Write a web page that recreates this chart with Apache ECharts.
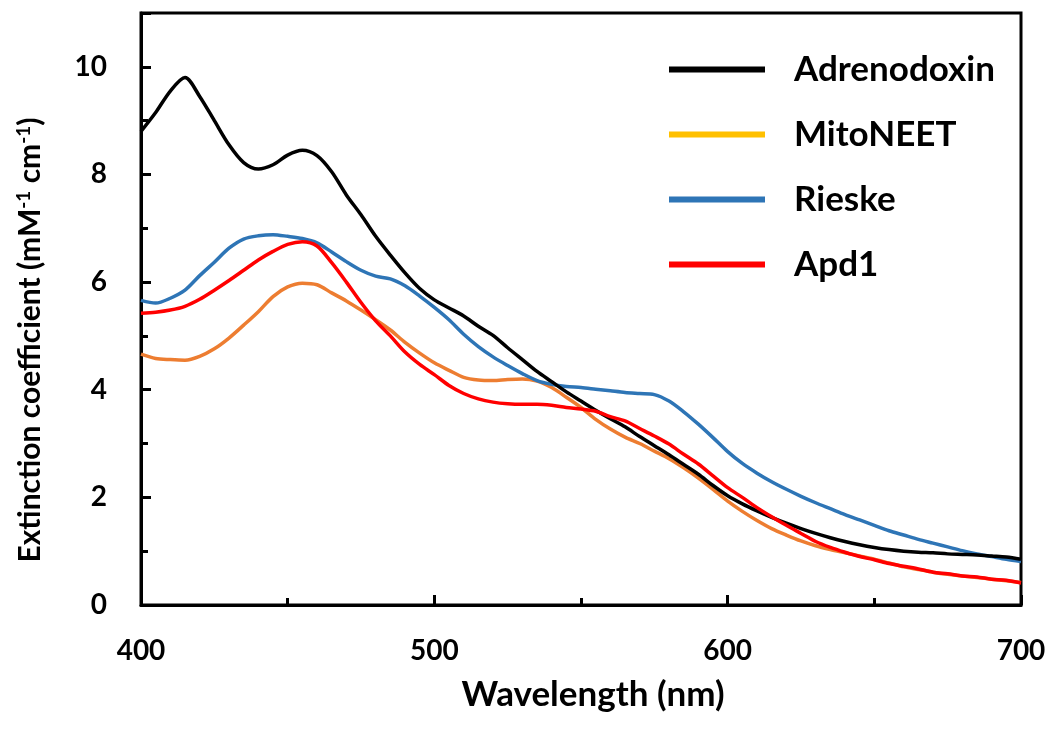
<!DOCTYPE html>
<html>
<head>
<meta charset="utf-8">
<script src="https://cdn.jsdelivr.net/npm/echarts@6/dist/echarts.min.js"></script>
<style>
html,body{margin:0;padding:0;background:#fff;}
#chart{width:1050px;height:732px;}
</style>
</head>
<body>
<div id="chart"></div>
<script>
const wavelengths = [400,405,410,415,420,425,430,435,440,445,450,455,460,465,470,475,480,485,490,495,
  500,505,510,515,520,525,530,535,540,545,550,555,560,565,570,575,580,585,590,595,
  600,605,610,615,620,625,630,635,640,645,650,655,660,665,670,675,680,685,690,695,700];

const adrenodoxin = [8.80,9.15,9.55,9.80,9.45,9.00,8.55,8.22,8.10,8.18,8.36,8.45,8.35,8.05,7.62,7.25,6.85,6.50,6.17,5.88,
  5.67,5.52,5.37,5.18,5.01,4.78,4.56,4.34,4.15,3.96,3.79,3.62,3.46,3.31,3.13,2.96,2.79,2.61,2.43,2.22,
  2.03,1.88,1.75,1.63,1.52,1.42,1.33,1.25,1.18,1.12,1.07,1.03,1.00,0.98,0.97,0.95,0.94,0.93,0.91,0.89,0.85];

const mitoNEET = [4.66,4.58,4.56,4.55,4.62,4.76,4.96,5.20,5.45,5.73,5.91,5.98,5.95,5.80,5.65,5.48,5.30,5.11,4.88,4.68,
  4.50,4.36,4.23,4.18,4.17,4.19,4.20,4.16,4.04,3.86,3.67,3.45,3.27,3.12,3.00,2.86,2.72,2.55,2.36,2.15,
  1.93,1.74,1.57,1.42,1.30,1.19,1.10,1.03,0.97,0.91,0.85,0.78,0.71,0.66,0.61,0.57,0.54,0.51,0.48,0.45,0.42];

const rieske = [5.66,5.61,5.70,5.85,6.12,6.37,6.63,6.80,6.86,6.88,6.85,6.81,6.73,6.56,6.38,6.22,6.11,6.06,5.93,5.74,
  5.53,5.30,5.03,4.80,4.61,4.45,4.30,4.17,4.10,4.06,4.04,4.01,3.98,3.95,3.93,3.91,3.79,3.59,3.36,3.11,
  2.85,2.63,2.45,2.29,2.15,2.02,1.90,1.79,1.68,1.58,1.48,1.38,1.30,1.22,1.15,1.08,1.01,0.95,0.90,0.85,0.81];

const apd1 = [5.42,5.44,5.48,5.55,5.68,5.85,6.03,6.22,6.41,6.57,6.70,6.75,6.67,6.36,6.00,5.62,5.28,5.00,4.70,4.47,
  4.28,4.08,3.93,3.83,3.77,3.74,3.73,3.73,3.71,3.67,3.64,3.60,3.50,3.42,3.28,3.14,2.99,2.80,2.62,2.40,
  2.18,2.00,1.81,1.64,1.48,1.33,1.18,1.07,0.98,0.90,0.84,0.77,0.72,0.67,0.61,0.58,0.54,0.52,0.48,0.46,0.41];

const seriesNames = ['Adrenodoxin','MitoNEET','Rieske','Apd1'];
const xTicks = [400,500,600,700];
const yTicks = [0,2,4,6,8,10];

const FONT = 'Lato';

function pairs(vals){ return wavelengths.map((w,i)=>[w, vals[i]]); }

const chart = echarts.init(document.getElementById('chart'));
const lineW = 3.5;
chart.setOption({
  animation:false,
  backgroundColor:'#fff',
  grid:{left:141,right:29,top:13,bottom:127,show:true,borderColor:'#000',borderWidth:3,backgroundColor:'transparent'},
  legend:{
    orient:'vertical', left:669, top:52, padding:0, icon:'rect', itemWidth:96, itemHeight:6, itemGap:30,
    textStyle:{fontFamily:FONT,fontWeight:'bold',fontSize:35,color:'#000',padding:[0,0,0,24]},
    data:[
      {name:'Adrenodoxin', itemStyle:{color:'#000000'}},
      {name:'MitoNEET', itemStyle:{color:'#FFC000'}},
      {name:'Rieske', itemStyle:{color:'#2E75B6'}},
      {name:'Apd1', itemStyle:{color:'#FF0000'}}
    ]
  },
  xAxis:{
    type:'value', min:xTicks[0], max:xTicks[xTicks.length-1], interval:100,
    name:'Wavelength (nm)', nameLocation:'middle', nameGap:72,
    nameTextStyle:{fontFamily:FONT,fontWeight:'bold',fontSize:35,color:'#000',padding:[0,0,0,24]},
    axisLine:{lineStyle:{color:'#000',width:3}},
    axisTick:{inside:true,length:10,lineStyle:{color:'#000',width:3}},
    minorTick:{show:true,splitNumber:2,length:7,lineStyle:{color:'#000',width:3}},
    splitLine:{show:false},
    axisLabel:{margin:32,fontFamily:FONT,fontWeight:'bold',fontSize:28,color:'#000'}
  },
  yAxis:[{
    type:'value', min:0, max:11, interval:2,
    name:'{b|Extinction coefficient (mM}{s|-1}{b| cm}{s|-1}{b|)}', nameLocation:'middle', nameGap:95,
    nameTextStyle:{fontFamily:FONT,fontWeight:'bold',fontSize:30,color:'#000',padding:[0,62,0,0],
      rich:{b:{fontFamily:FONT,fontWeight:'bold',fontSize:30,color:'#000'},
            s:{fontFamily:FONT,fontWeight:'bold',fontSize:19,color:'#000',verticalAlign:'top',padding:[0,0,13,0]}}},
    axisLine:{lineStyle:{color:'#000',width:3}},
    axisTick:{inside:true,length:10,lineStyle:{color:'#000',width:3}},
    splitLine:{show:false},
    axisLabel:{margin:34,fontFamily:FONT,fontWeight:'bold',fontSize:28,color:'#000',
      formatter:function(v){return yTicks.indexOf(v)>=0?String(v):'';}}
  },{
    type:'value', min:0, max:11, interval:1, position:'left',
    axisLine:{show:false},
    axisTick:{inside:true,length:7,lineStyle:{color:'#000',width:3}},
    splitLine:{show:false},
    axisLabel:{show:false}
  }],
  series:[
    {name:seriesNames[1],type:'line',data:pairs(mitoNEET),showSymbol:false,symbol:'none',smooth:0.3,
      itemStyle:{color:'#FFC000'},lineStyle:{color:'#ED7D31',width:lineW},z:2},
    {name:seriesNames[2],type:'line',data:pairs(rieske),showSymbol:false,symbol:'none',smooth:0.3,
      itemStyle:{color:'#2E75B6'},lineStyle:{color:'#2E75B6',width:lineW},z:3},
    {name:seriesNames[0],type:'line',data:pairs(adrenodoxin),showSymbol:false,symbol:'none',smooth:0.3,
      itemStyle:{color:'#000000'},lineStyle:{color:'#000000',width:lineW},z:4},
    {name:seriesNames[3],type:'line',data:pairs(apd1),showSymbol:false,symbol:'none',smooth:0.3,
      itemStyle:{color:'#FF0000'},lineStyle:{color:'#FF0000',width:lineW},z:5}
  ]
});
</script>
</body>
</html>
